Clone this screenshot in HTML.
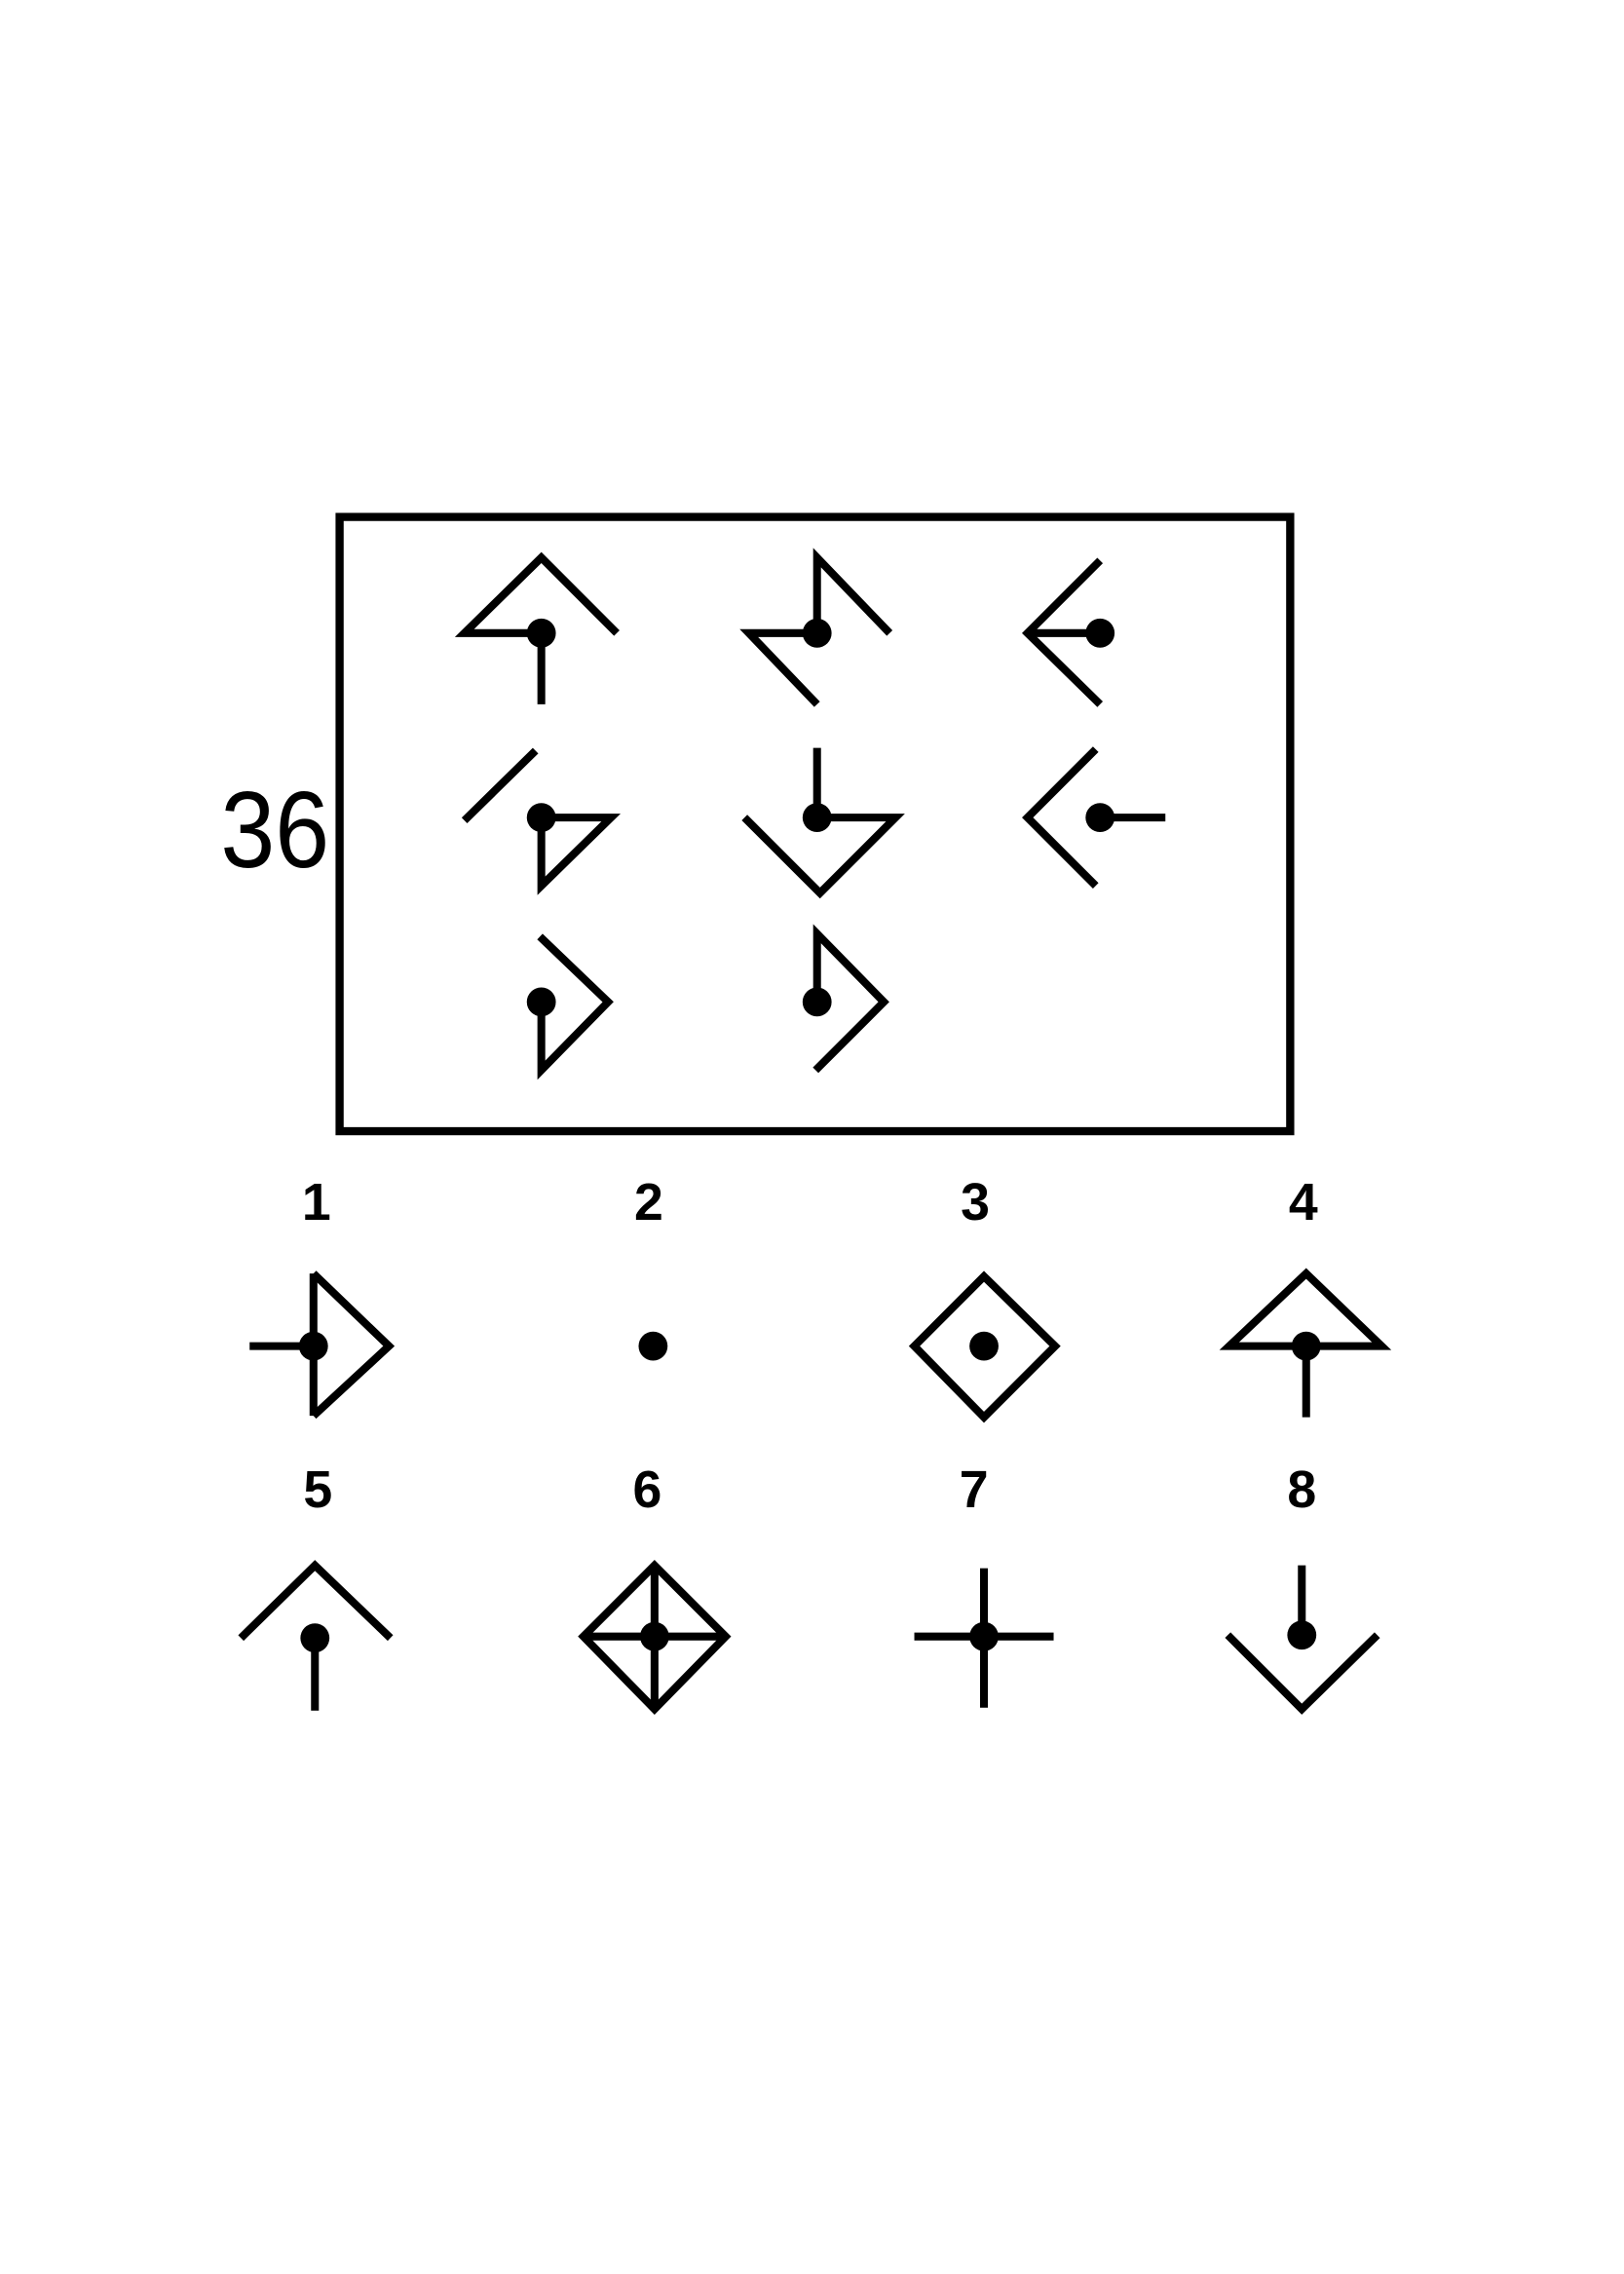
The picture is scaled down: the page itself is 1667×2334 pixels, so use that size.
<!DOCTYPE html>
<html><head><meta charset="utf-8"><style>
html,body{margin:0;padding:0;background:#fff;}
svg{display:block;}
text{font-family:"Liberation Sans",sans-serif;fill:#000;}
</style></head><body>
<svg width="1667" height="2334" viewBox="0 0 1119 1566" preserveAspectRatio="none">
<g fill="none" stroke="#000" stroke-width="5.4" stroke-linejoin="miter">
<rect x="234" y="356" width="655" height="423" stroke-width="5.6"/>
<g><polyline points="373,436 320,436 373,384 425,436"/><line x1="373" y1="436" x2="373" y2="485"/></g>
<g><polyline points="613,436 563,384 563,436 516,436 563,485"/></g>
<g><polyline points="758,386 708,436 758,485"/><line x1="708" y1="436" x2="758" y2="436"/></g>
<g><line x1="320" y1="565" x2="369" y2="517"/><polygon points="373,563 421,563 373,610"/></g>
<g><line x1="563" y1="515" x2="563" y2="563"/><polyline points="563,563 617,563 565,615 513,563"/></g>
<g><polyline points="755,516 708,563 755,610"/><line x1="758" y1="563" x2="803" y2="563"/></g>
<g><polyline points="372,645 419,690 373,737 373,690"/></g>
<g><polyline points="562,737 609,690 563,643 563,690"/></g>
<g><polyline points="216,877 268,927 216,975"/><line x1="216" y1="877" x2="216" y2="975"/><line x1="172" y1="927" x2="216" y2="927"/></g>
<g><polygon points="678,879 727,927 678,976 630,927"/></g>
<g><polygon points="900,877 952,927 847,927"/><line x1="900" y1="927" x2="900" y2="976"/></g>
<g><polyline points="166,1128 217,1078 269,1128"/><line x1="217" y1="1128" x2="217" y2="1178"/></g>
<g><polygon points="451,1078 500,1127 451,1177 402,1127"/><line x1="451" y1="1078" x2="451" y2="1177"/><line x1="402" y1="1127" x2="500" y2="1127"/></g>
<g><line x1="678" y1="1080" x2="678" y2="1176"/><line x1="630" y1="1127" x2="726" y2="1127"/></g>
<g><line x1="897" y1="1078" x2="897" y2="1126"/><polyline points="846,1126 897,1177 949,1126"/></g>
</g>
<g fill="#000">
<circle cx="373" cy="436" r="10"/><circle cx="563" cy="436" r="10"/><circle cx="758" cy="436" r="10"/>
<circle cx="373" cy="563" r="10"/><circle cx="563" cy="563" r="10"/><circle cx="758" cy="563" r="10"/>
<circle cx="373" cy="690" r="10"/><circle cx="563" cy="690" r="10"/>
<circle cx="216" cy="927" r="10"/><circle cx="450" cy="927" r="10"/><circle cx="678" cy="927" r="10"/><circle cx="900" cy="927" r="10"/>
<circle cx="217" cy="1128" r="10"/><circle cx="451" cy="1127" r="10"/><circle cx="678" cy="1127" r="10"/><circle cx="897" cy="1126" r="10"/>
</g>
<text x="152" y="597" font-size="75" textLength="75" lengthAdjust="spacingAndGlyphs">36</text>
<g font-size="36" font-weight="bold" text-anchor="middle">
<text x="218" y="840">1</text>
<text x="447" y="840">2</text>
<text x="672" y="840">3</text>
<text x="898" y="840">4</text>
<text x="219" y="1038">5</text>
<text x="446" y="1038">6</text>
<text x="671" y="1038">7</text>
<text x="897" y="1038">8</text>
</g>
<g></g>
</svg>
</body></html>
